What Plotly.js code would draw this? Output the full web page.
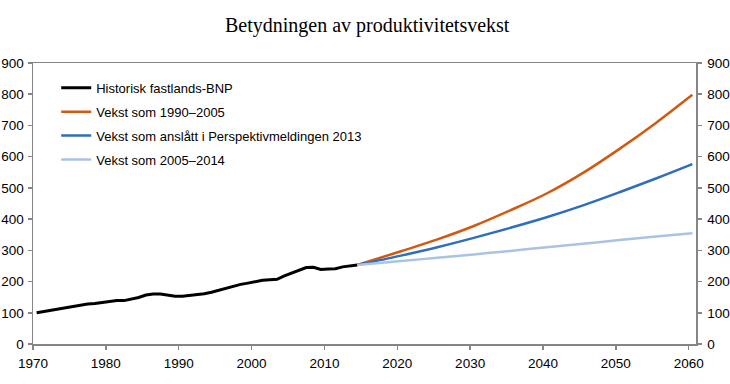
<!DOCTYPE html>
<html>
<head>
<meta charset="utf-8">
<script src="https://cdn.plot.ly/plotly-3.0.1.min.js"></script>
<style>html,body{margin:0;padding:0;background:#fff;}#chart{width:730px;height:384px;}</style>
</head>
<body>
<div id="chart"></div>
<script>
// Historical mainland GDP index (1970 = 100)
const histYears = [1970,1971,1972,1973,1974,1975,1976,1977,1978,1979,1980,1981,1982,1983,1984,1985,1986,1987,1988,1989,1990,1991,1992,1993,1994,1995,1996,1997,1998,1999,2000,2001,2002,2003,2004,2005,2006,2007,2008,2009,2010,2011,2012,2013,2014];
const histValues = [100,104,109,113,117,120,124,128,130,133,136,139,139,143,149,157,160,160,156,153,153,155,158,161,166,172,178,186,191,195,200,204,206,207,218,227,237,245,246,239,240,241,247,250,253];

// Projections
const projYears = [2014,2020,2025,2030,2035,2040,2045,2050,2055,2060];
const proj9005 = [253,297,335,378,428,482,548,625,708,798];
const projPM13 = [253,283,310,340,372,406,444,486,530,576];
const proj0514 = [253,266,276,287,298,310,321,333,344,355];

const names = ["Historisk fastlands-BNP","Vekst som 1990–2005","Vekst som anslått i Perspektivmeldingen 2013","Vekst som 2005–2014"];
const colors = ["#000000","#D2590F","#2F6EBE","#A8C3E4"];

const xTickLabels = [1970,1980,1990,2000,2010,2020,2030,2040,2050,2060];
const yTickLabels = [0,100,200,300,400,500,600,700,800,900];

const traces = [
  {x: histYears, y: histValues, name: names[0], mode: 'lines', line: {color: colors[0], width: 3}, legendgroup: 'a'},
  {x: projYears, y: proj9005, name: names[1], mode: 'lines', line: {color: colors[1], width: 2.5, shape: 'spline'}, legendgroup: 'b'},
  {x: projYears, y: projPM13, name: names[2], mode: 'lines', line: {color: colors[2], width: 2.5, shape: 'spline'}, legendgroup: 'c'},
  {x: projYears, y: proj0514, name: names[3], mode: 'lines', line: {color: colors[3], width: 2.5, shape: 'spline'}, legendgroup: 'd'},
  {x: [], y: [], yaxis: 'y2', showlegend: false, hoverinfo: 'skip'}
];
// offset so that data sit in the middle of yearly categories (tick marks on category boundaries)
traces.forEach(t => { t.x = t.x.map(v => v + 0.5); });

const axisCol = '#868686';
const tickFont = {family: 'Liberation Sans, Arial, sans-serif', size: 13.5, color: '#000'};
const layout = {
  width: 730, height: 384,
  margin: {l: 33, r: 34, t: 63, b: 40},
  paper_bgcolor: '#fff', plot_bgcolor: '#fff',
  font: {family: 'Liberation Sans, Arial, sans-serif', size: 13, color: '#000'},
  title: {text: 'Betydningen av produktivitetsvekst', font: {family: 'Liberation Serif, Times New Roman, serif', size: 20, color: '#000'}, x: 0.503, xanchor: 'center', y: 0.935, yanchor: 'middle'},
  showlegend: true,
  legend: {x: 0.035, y: 0.965, xanchor: 'left', yanchor: 'top', bgcolor: 'rgba(0,0,0,0)', font: {size: 13}, tracegroupgap: 4, traceorder: 'grouped'},
  xaxis: {
    range: [1970, 2061], tickvals: xTickLabels, ticktext: xTickLabels.map(String), tickfont: tickFont,
    showgrid: false, zeroline: false, showline: true, linecolor: axisCol, linewidth: 1.5, mirror: true,
    ticks: 'outside', ticklen: 4, tickcolor: axisCol, tickwidth: 1.5, ticklabelstandoff: 2, fixedrange: true
  },
  yaxis: {
    range: [0, 900], tickvals: yTickLabels, showgrid: false, zeroline: false, tickfont: tickFont,
    showline: true, linecolor: axisCol, linewidth: 1.5,
    ticks: 'outside', ticklen: 4, tickcolor: axisCol, tickwidth: 1.5, ticklabelstandoff: 1
  },
  yaxis2: {
    range: [0, 900], tickvals: yTickLabels, overlaying: 'y', side: 'right', showgrid: false, zeroline: false, tickfont: tickFont,
    showline: true, linecolor: axisCol, linewidth: 1.5,
    ticks: 'outside', ticklen: 4, tickcolor: axisCol, tickwidth: 1.5, ticklabelstandoff: 3
  }
};
Plotly.newPlot('chart', traces, layout, {staticPlot: true, displayModeBar: false});
</script>
</body>
</html>
